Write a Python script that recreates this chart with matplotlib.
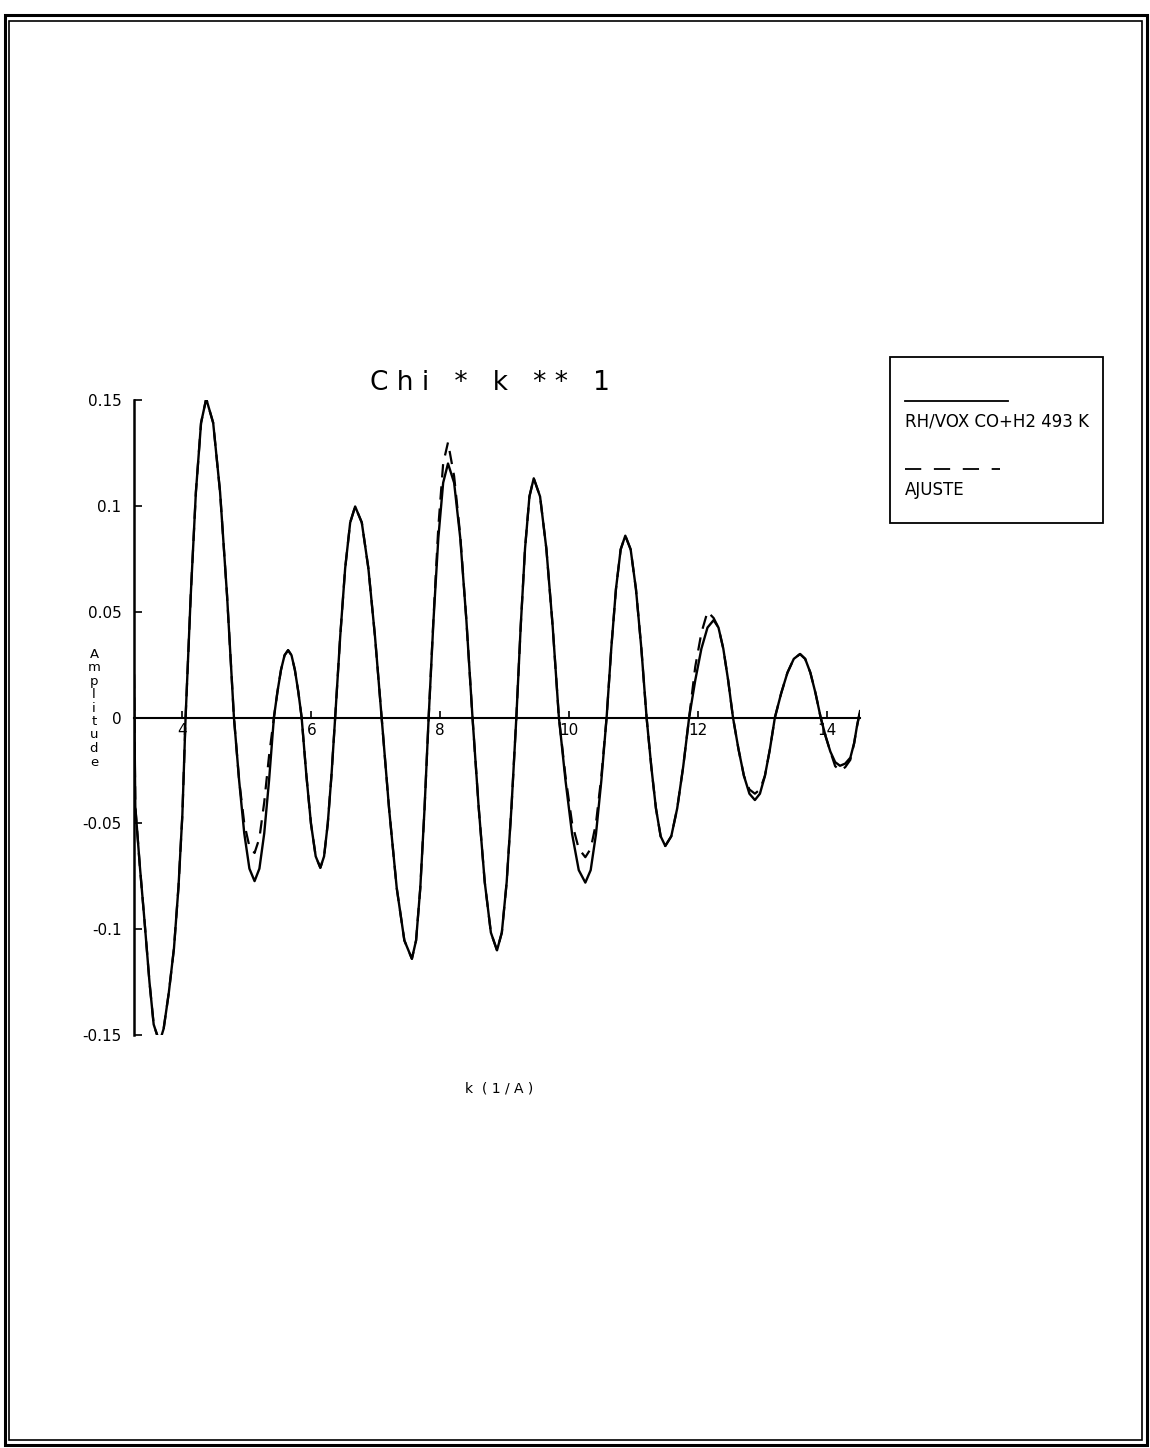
import matplotlib
matplotlib.use("Agg")
import matplotlib.pyplot as plt
from matplotlib.patches import Rectangle
from matplotlib.lines import Line2D

# ---------------- data ----------------
k_values = [
    3.25, 3.27, 3.34, 3.41, 3.49, 3.555, 3.63, 3.67, 3.71, 3.79, 3.87, 3.94, 4.00, 4.05,
    4.13, 4.21, 4.29, 4.37, 4.478, 4.585, 4.693, 4.80,
    4.88, 4.96, 5.04, 5.12, 5.195, 5.27, 5.345, 5.42,
    5.475, 5.53, 5.585, 5.64, 5.693, 5.745, 5.798, 5.85,
    5.923, 5.995, 6.068, 6.14, 6.198, 6.255, 6.313, 6.37,
    6.448, 6.525, 6.603, 6.68, 6.783, 6.885, 6.988, 7.09,
    7.208, 7.325, 7.443, 7.56, 7.625, 7.69, 7.755, 7.82,
    7.895, 7.97, 8.045, 8.12, 8.215, 8.31, 8.405, 8.50,
    8.595, 8.69, 8.785, 8.88, 8.955, 9.03, 9.105, 9.18,
    9.248, 9.315, 9.383, 9.45, 9.548, 9.645, 9.743, 9.84,
    9.943, 10.045, 10.148, 10.25, 10.333, 10.415, 10.498, 10.58,
    10.653, 10.725, 10.798, 10.87, 10.953, 11.035, 11.118, 11.20,
    11.273, 11.345, 11.418, 11.49, 11.583, 11.675, 11.768, 11.86,
    11.955, 12.05, 12.145, 12.24, 12.315, 12.39, 12.465, 12.54,
    12.625, 12.71, 12.795, 12.88, 12.958, 13.035, 13.113, 13.19,
    13.288, 13.385, 13.483, 13.58, 13.66, 13.74, 13.82, 13.90,
    13.975, 14.05, 14.125, 14.20, 14.28, 14.36, 14.42, 14.46, 14.51,
]

chi_measured = [
    0.020, -0.042, -0.070, -0.095, -0.125, -0.145, -0.152, -0.151, -0.147, -0.130, -0.109, -0.080, -0.046, 0.0,
    0.0577, 0.1065, 0.1392, 0.1506, 0.1392, 0.1065, 0.0577, 0.0,
    -0.0296, -0.0547, -0.0714, -0.0773, -0.0714, -0.0547, -0.0296, 0.0,
    0.0122, 0.0225, 0.0294, 0.0318, 0.0294, 0.0225, 0.0122, 0.0,
    -0.0272, -0.0502, -0.0656, -0.0710, -0.0656, -0.0502, -0.0272, 0.0,
    0.0382, 0.0705, 0.0921, 0.0997, 0.0921, 0.0705, 0.0382, 0.0,
    -0.0437, -0.0806, -0.1053, -0.1140, -0.1053, -0.0806, -0.0437, 0.0,
    0.0460, 0.0848, 0.1109, 0.1200, 0.1109, 0.0848, 0.0460, 0.0,
    -0.0421, -0.0778, -0.1016, -0.1100, -0.1016, -0.0778, -0.0421, 0.0,
    0.0433, 0.0799, 0.1044, 0.1130, 0.1044, 0.0799, 0.0433, 0.0,
    -0.0299, -0.0551, -0.0721, -0.0780, -0.0721, -0.0551, -0.0299, 0.0,
    0.0329, 0.0607, 0.0794, 0.0859, 0.0794, 0.0607, 0.0329, 0.0,
    -0.0232, -0.0429, -0.0561, -0.0607, -0.0561, -0.0429, -0.0232, 0.0,
    0.0176, 0.0325, 0.0425, 0.0460, 0.0425, 0.0325, 0.0176, 0.0,
    -0.0149, -0.0276, -0.0360, -0.0390, -0.0360, -0.0276, -0.0149, 0.0,
    0.0115, 0.0212, 0.0277, 0.0300, 0.0277, 0.0212, 0.0115, 0.0,
    -0.0087, -0.0161, -0.0211, -0.0228, -0.0218, -0.0190, -0.0120, -0.0046, 0.003,
]

chi_fit = [
    0.020, -0.042, -0.070, -0.095, -0.125, -0.145, -0.152, -0.151, -0.147, -0.130, -0.109, -0.080, -0.046, 0.0,
    0.0577, 0.1065, 0.1392, 0.1506, 0.1392, 0.1065, 0.0577, 0.0,
    -0.0296, -0.0500, -0.0610, -0.0640, -0.0570, -0.0400, -0.0180, 0.0,
    0.0122, 0.0225, 0.0294, 0.0318, 0.0294, 0.0225, 0.0122, 0.0,
    -0.0272, -0.0502, -0.0656, -0.0710, -0.0656, -0.0502, -0.0272, 0.0,
    0.0382, 0.0705, 0.0921, 0.0997, 0.0921, 0.0705, 0.0382, 0.0,
    -0.0437, -0.0806, -0.1053, -0.1140, -0.1053, -0.0806, -0.0437, 0.0,
    0.0470, 0.0900, 0.1200, 0.1300, 0.1140, 0.0860, 0.0460, 0.0,
    -0.0421, -0.0778, -0.1016, -0.1100, -0.1016, -0.0778, -0.0421, 0.0,
    0.0433, 0.0799, 0.1044, 0.1130, 0.1044, 0.0799, 0.0433, 0.0,
    -0.0280, -0.0500, -0.0620, -0.0660, -0.0620, -0.0500, -0.0280, 0.0,
    0.0329, 0.0607, 0.0794, 0.0859, 0.0794, 0.0607, 0.0329, 0.0,
    -0.0232, -0.0429, -0.0561, -0.0607, -0.0561, -0.0429, -0.0232, 0.0,
    0.0240, 0.0400, 0.0500, 0.0470, 0.0425, 0.0325, 0.0176, 0.0,
    -0.0149, -0.0276, -0.0340, -0.0360, -0.0340, -0.0276, -0.0149, 0.0,
    0.0115, 0.0212, 0.0277, 0.0300, 0.0277, 0.0212, 0.0115, 0.0,
    -0.0087, -0.0161, -0.0230, -0.0250, -0.0235, -0.0200, -0.0120, -0.0046, 0.003,
]

x_ticks = [4, 6, 8, 10, 12, 14]
x_tick_labels = ["4", "6", "8", "10", "12", "14"]
y_ticks = [0.15, 0.1, 0.05, 0, -0.05, -0.1, -0.15]
y_tick_labels = ["0.15", "0.1", "0.05", "0", "-0.05", "-0.1", "-0.15"]

title_text = "C h i   *   k   * *   1"
x_label = "k  ( 1 / A )"
y_label = "Amplitude"
legend_labels = ["RH/VOX CO+H2 493 K", "AJUSTE"]

# ---------------- figure ----------------
W, H = 1150, 1448
fig = plt.figure(figsize=(W / 100, H / 100), dpi=100)
fig.patch.set_facecolor("white")

def fx(px):
    return px / W

def fy(py):
    return 1 - py / H

ax = fig.add_axes([fx(134), fy(1035), fx(860) - fx(134), fy(400) - fy(1035)])
ax.set_xlim(3.25, 14.51)
ax.set_ylim(-0.15, 0.15)

ax.plot(k_values, chi_fit, color="black", lw=1.6, ls=(0, (6, 4)), zorder=2)
ax.plot(k_values, chi_measured, color="black", lw=1.7, zorder=3)

for s in ["top", "right"]:
    ax.spines[s].set_visible(False)
ax.spines["left"].set_linewidth(1.8)
ax.spines["bottom"].set_position(("data", 0))
ax.spines["bottom"].set_linewidth(1.5)

ax.set_xticks(x_ticks)
ax.set_xticklabels(x_tick_labels)
ax.set_yticks(y_ticks)
ax.set_yticklabels(y_tick_labels)
ax.tick_params(axis="x", direction="in", length=5, width=1.2, pad=4, labelsize=11)
ax.tick_params(axis="y", direction="in", length=6, width=1.2, pad=9, labelsize=11)

fig.text(fx(490), fy(383), title_text, ha="center", va="center",
         fontsize=19, color="black")
fig.text(fx(499), fy(1088), x_label, ha="center", va="center", fontsize=10)
fig.text(fx(94), fy(708), "\n".join(y_label), ha="center", va="center",
         fontsize=9.5, linespacing=1.05)

# legend box
fig.add_artist(Rectangle((fx(890), fy(523)), fx(1103) - fx(890), fy(357) - fy(523),
                         transform=fig.transFigure, fill=False, lw=1.3, ec="black"))
fig.add_artist(Line2D([fx(905), fx(1008)], [fy(401), fy(401)],
                      transform=fig.transFigure, color="black", lw=1.3))
fig.text(fx(905), fy(421), legend_labels[0], ha="left", va="center", fontsize=12)
fig.add_artist(Line2D([fx(905), fx(1000)], [fy(469), fy(469)],
                      transform=fig.transFigure, color="black", lw=1.3,
                      ls=(0, (9, 7))))
fig.text(fx(905), fy(490), legend_labels[1], ha="left", va="center", fontsize=12)

# page frame
fig.add_artist(Rectangle((fx(5), fy(1445)), fx(1147) - fx(5), fy(15) - fy(1445),
                         transform=fig.transFigure, fill=False, lw=2.2, ec="black"))
fig.add_artist(Rectangle((fx(9), fy(1440)), fx(1142) - fx(9), fy(21) - fy(1440),
                         transform=fig.transFigure, fill=False, lw=1.2, ec="black"))

fig.savefig("out.png", dpi=100, facecolor="white")
